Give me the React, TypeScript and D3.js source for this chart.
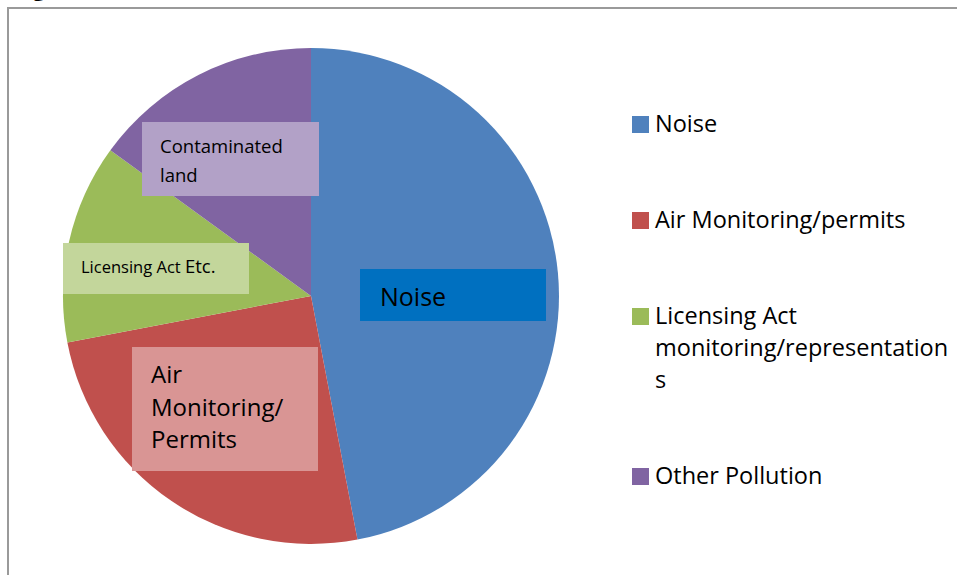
import React from "react";
import * as d3 from "d3";

const categories = ["Noise", "Air Monitoring/permits", "Licensing Act monitoring/representations", "Other Pollution"];
const values = [47, 25, 13, 15];
const colors = ["#4F81BD", "#C0504D", "#9BBB59", "#8064A2"];
const legendLines = [["Noise"], ["Air Monitoring/permits"], ["Licensing Act", "monitoring/representation", "s"], ["Other Pollution"]];

const W = 957, H = 575;
const cx = 311, cy = 296, R = 248;
const FONT = "'Open Sans', 'Noto Sans', sans-serif";

export default function App() {
  const pie = d3.pie<number>().sort(null).value((d) => d)(values);
  const arc = d3.arc<d3.PieArcDatum<number>>().innerRadius(0).outerRadius(R);
  const legendY = [124, 220, 316, 476];
  return (
    <svg width={W} height={H} style={{ position: "absolute", left: 0, top: 0, background: "#fff", fontVariantLigatures: "none" }} fontFamily={FONT}>
      <text x={33} y={-4} fontSize={22} fontWeight="bold" fill="#000">g</text>
      <rect x={8} y={8} width={W + 10} height={H + 10} fill="none" stroke="#9a9a9a" strokeWidth={2} />
      <g transform={`translate(${cx},${cy})`}>
        {pie.map((p, i) => (
          <path key={i} d={arc(p) || ""} fill={colors[i]} />
        ))}
      </g>
      {/* data label boxes */}
      <rect x={360} y={269} width={186} height={52} fill="#0070C0" />
      <text x={380} y={306} fontSize={25} fill="#000">Noise</text>

      <rect x={132} y={347} width={186} height={124} fill="#D99594" />
      <text fontSize={24} fill="#000">
        <tspan x={151} y={383}>Air</tspan>
        <tspan x={151} y={415.5}>Monitoring/</tspan>
        <tspan x={151} y={448}>Permits</tspan>
      </text>

      <rect x={63} y={243} width={186} height={51} fill="#C3D69B" />
      <text x={81} y={273} fill="#000">
        <tspan fontSize={16.5}>Licensing Act </tspan>
        <tspan fontSize={18.5}>Etc.</tspan>
      </text>

      <rect x={142} y={122} width={177} height={74} fill="#B2A1C7" />
      <text fontSize={18.5} fill="#000">
        <tspan x={160} y={153}>Contaminated</tspan>
        <tspan x={160} y={182}>land</tspan>
      </text>

      {/* legend */}
      {categories.map((c, i) => (
        <g key={c}>
          <rect x={632} y={legendY[i] - 8} width={17} height={17} fill={colors[i]} />
          <text fontSize={23.5} fill="#000">
            {legendLines[i].map((l, j) => (
              <tspan key={j} x={655} y={legendY[i] + 8 + j * 32}>{l}</tspan>
            ))}
          </text>
        </g>
      ))}
    </svg>
  );
}
